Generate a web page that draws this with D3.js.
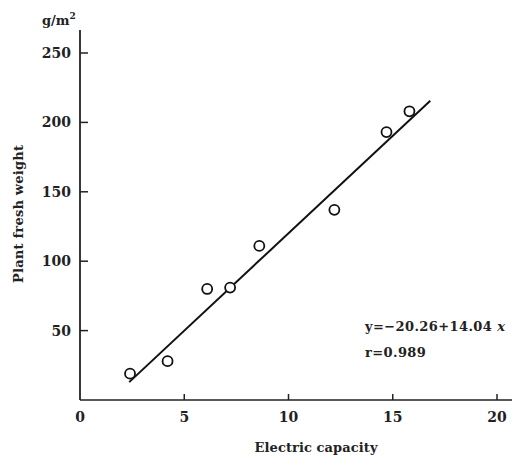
<!DOCTYPE html>
<html>
<head>
<meta charset="utf-8">
<script src="https://cdn.jsdelivr.net/npm/d3@7"></script>
<style>
  body { margin: 0; background: #fff; }
  text { font-family: "DejaVu Serif", "Liberation Serif", serif; fill: #222; }
</style>
</head>
<body>
<svg id="chart" width="515" height="458"></svg>
<script>
// measured points: electric capacity vs plant fresh weight (g/m2)
var capacity = [2.4, 4.2, 6.1, 7.2, 8.6, 12.2, 14.7, 15.8];
var freshWeight = [19, 28, 80, 81, 111, 137, 193, 208];
var xTicks = [0, 5, 10, 15, 20];
var yTicks = [50, 100, 150, 200, 250];
var fitIntercept = -20.26, fitSlope = 14.04;
var fitRange = [2.36, 16.8];

var svg = d3.select("#chart");
var x0 = 80, x1 = 497, yBottom = 400, yTop = 53;

var xScale = d3.scaleLinear().domain([0, 20]).range([x0, x1]);
var yScale = d3.scaleLinear().domain([0, 250]).range([yBottom, yTop]);

// axes lines
svg.append("line")
  .attr("x1", x0).attr("x2", x0)
  .attr("y1", 30).attr("y2", yBottom)
  .attr("stroke", "#222").attr("stroke-width", 1.8);
svg.append("line")
  .attr("x1", x0).attr("x2", 512)
  .attr("y1", yBottom).attr("y2", yBottom)
  .attr("stroke", "#222").attr("stroke-width", 1.6);

// y ticks (pointing inward)
var gy = svg.append("g");
gy.selectAll("line").data(yTicks).enter().append("line")
  .attr("x1", x0).attr("x2", x0 + 8)
  .attr("y1", function(d) { return yScale(d); })
  .attr("y2", function(d) { return yScale(d); })
  .attr("stroke", "#222").attr("stroke-width", 1.5);
gy.selectAll("text").data(yTicks).enter().append("text")
  .attr("x", 71)
  .attr("y", function(d) { return yScale(d); })
  .attr("dy", "0.35em")
  .attr("text-anchor", "end")
  .attr("font-size", 14)
  .attr("font-weight", "bold")
  .text(function(d) { return d; });

// x ticks
var gx = svg.append("g");
gx.selectAll("line").data(xTicks.slice(1)).enter().append("line")
  .attr("x1", function(d) { return xScale(d); })
  .attr("x2", function(d) { return xScale(d); })
  .attr("y1", yBottom).attr("y2", yBottom - 6)
  .attr("stroke", "#222").attr("stroke-width", 1.5);
gx.selectAll("text").data(xTicks).enter().append("text")
  .attr("x", function(d) { return xScale(d); })
  .attr("y", 417)
  .attr("dy", "0.35em")
  .attr("text-anchor", "middle")
  .attr("font-size", 14)
  .attr("font-weight", "bold")
  .text(function(d) { return d; });

// regression line
var fit = d3.line()
  .x(function(d) { return xScale(d); })
  .y(function(d) { return yScale(fitIntercept + fitSlope * d); });
svg.append("path")
  .attr("d", fit(fitRange))
  .attr("fill", "none")
  .attr("stroke", "#111")
  .attr("stroke-width", 2);

// points
svg.append("g").selectAll("circle")
  .data(d3.range(capacity.length))
  .enter().append("circle")
  .attr("cx", function(i) { return xScale(capacity[i]); })
  .attr("cy", function(i) { return yScale(freshWeight[i]); })
  .attr("r", 5)
  .attr("fill", "#fff")
  .attr("stroke", "#111")
  .attr("stroke-width", 1.8);

// labels
svg.append("text")
  .attr("x", 42).attr("y", 25)
  .attr("font-size", 13).attr("font-weight", "bold")
  .text("g/m")
  .append("tspan").attr("dy", -6).attr("font-size", 9).text("2");

svg.append("text")
  .attr("transform", "translate(23,214) rotate(-90)")
  .attr("text-anchor", "middle")
  .attr("font-size", 13)
  .attr("font-weight", "bold")
  .attr("textLength", 138)
  .text("Plant fresh weight");

svg.append("text")
  .attr("x", 316).attr("y", 452)
  .attr("text-anchor", "middle")
  .attr("font-size", 13)
  .attr("font-weight", "bold")
  .attr("textLength", 123)
  .text("Electric capacity");

svg.append("text")
  .attr("x", 365).attr("y", 331)
  .attr("font-size", 13)
  .attr("font-weight", "bold")
  .attr("letter-spacing", 0.4)
  .text("y=\u221220.26+14.04 ")
  .append("tspan").attr("font-style", "italic").text("x");

svg.append("text")
  .attr("x", 365).attr("y", 357)
  .attr("font-size", 13)
  .attr("font-weight", "bold")
  .attr("letter-spacing", 0.4)
  .text("r=0.989");
</script>
</body>
</html>
